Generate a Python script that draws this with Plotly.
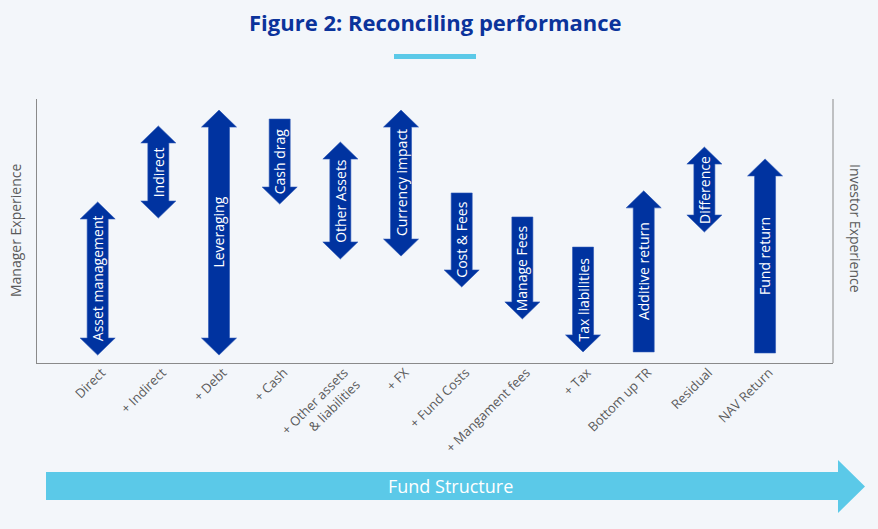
import plotly.graph_objects as go

# ---- data ----
categories = ["Direct", "+ Indirect", "+ Debt", "+ Cash", "+ Other assets<br>& liabilities", "+ FX",
              "+ Fund Costs", "+ Mangament fees", "+ Tax", "Bottom up TR", "Residual", "NAV Return"]
arrow_labels = ["Asset management", "Indirect", "Leveraging", "Cash drag", "Other Assets", "Currency impact",
                "Cost & Fees", "Manage Fees", "Tax liabilities", "Additive return", "Difference", "Fund return"]
arrow_kind = ["both", "both", "both", "down", "both", "both",
              "down", "down", "down", "up", "both", "up"]
top_values = [61.0, 89.8, 95.8, 92.4, 83.7, 95.8, 64.4, 55.3, 43.9, 65.2, 81.8, 77.3]
bottom_values = [3.0, 54.9, 3.0, 60.2, 39.4, 40.5, 28.8, 16.7, 4.2, 4.2, 49.6, 3.8]

# ---- style ----
BG = "#F3F6FA"
NAVY = "#0033A0"
CYAN = "#5BC9E8"
GREY = "#5A5A5A"
AXIS = "#8A8A8A"
FONT = "Open Sans"

W, H = 878, 529
L, R, T, B = 37, 45, 99, 166
plot_w = W - L - R
plot_h = H - T - B
x_range = [-1.0, 12.12]
y_range = [0, 100]
ux = plot_w / (x_range[1] - x_range[0])   # px per x unit
uy = plot_h / (y_range[1] - y_range[0])   # px per y unit

hw = 17.5 / ux   # head half-width
sw = 10.5 / ux   # shaft half-width
hl = 17.0 / uy   # head length


def px_x(p):
    return (p - L) / plot_w


def px_y(p):
    return (H - p - B) / plot_h


fig = go.Figure()
annotations = []

for i, (lab, kind, yt, yb) in enumerate(zip(arrow_labels, arrow_kind, top_values, bottom_values)):
    xc = i
    xs, ys = [], []
    if kind in ("both", "up"):
        xs += [xc, xc + hw, xc + sw]
        ys += [yt, yt - hl, yt - hl]
    else:
        xs += [xc + sw]
        ys += [yt]
    if kind in ("both", "down"):
        xs += [xc + sw, xc + hw, xc, xc - hw, xc - sw]
        ys += [yb + hl, yb + hl, yb, yb + hl, yb + hl]
    else:
        xs += [xc + sw, xc - sw]
        ys += [yb, yb]
    if kind in ("both", "up"):
        xs += [xc - sw, xc - hw, xc]
        ys += [yt - hl, yt - hl, yt]
    else:
        xs += [xc - sw, xc + sw]
        ys += [yt, yt]
    fig.add_trace(go.Scatter(x=xs, y=ys, mode="lines", fill="toself", fillcolor=NAVY,
                             line=dict(color="#2A55B5", width=0.6), hoverinfo="skip", showlegend=False))
    annotations.append(dict(x=xc, y=(yt + yb) / 2, xref="x", yref="y", text=lab, textangle=-90,
                            xanchor="center", yanchor="middle",
                            showarrow=False, font=dict(family=FONT, size=14, color="white")))


def paper_text(px, py, text, size, color, angle=0):
    return dict(x=px_x(px), y=px_y(py), xref="paper", yref="paper", text=text,
                xanchor="center", yanchor="middle", showarrow=False, textangle=angle,
                font=dict(family=FONT, size=size, color=color))


annotations.append(paper_text(15, 230, "Manager Experience", 14, GREY, -90))
annotations.append(paper_text(856, 228, "Investor Experience", 14, GREY, 90))
annotations.append(paper_text(435, 22, "<b>Figure 2: Reconciling performance</b>", 22, "#0B339B"))
annotations.append(paper_text(450, 486, "Fund Structure", 18, "white"))

shapes = []
shapes.append(dict(type="rect", xref="paper", yref="paper", x0=px_x(394), x1=px_x(476),
                   y0=px_y(59), y1=px_y(54), fillcolor=CYAN, line=dict(width=0)))
shapes.append(dict(type="line", xref="paper", yref="paper", x0=1, x1=1, y0=0, y1=1,
                   line=dict(color=AXIS, width=1)))
pts = [(46, 472), (838, 472), (838, 460), (865, 486.5), (838, 513), (838, 500), (46, 500)]
path = "M " + " L ".join(f"{px_x(a):.5f},{px_y(b):.5f}" for a, b in pts) + " Z"
shapes.append(dict(type="path", xref="paper", yref="paper", path=path, fillcolor=CYAN,
                   line=dict(width=0)))

fig.update_layout(
    width=W, height=H,
    margin=dict(l=L, r=R, t=T, b=B),
    paper_bgcolor=BG, plot_bgcolor=BG,
    showlegend=False,
    annotations=annotations,
    shapes=shapes,
    font=dict(family=FONT),
    xaxis=dict(range=x_range, tickmode="array", tickvals=list(range(len(categories))),
               ticktext=categories, tickangle=-45, showgrid=False, zeroline=False,
               showline=True, linecolor=AXIS, linewidth=1, ticks="",
               ticklabelstandoff=-4, ticklabelshift=4,
               tickfont=dict(family=FONT, size=13, color=GREY), fixedrange=True),
    yaxis=dict(range=y_range, showgrid=False, zeroline=False, showticklabels=False,
               showline=True, linecolor=AXIS, linewidth=1, ticks="", fixedrange=True),
)

fig.write_html("out.html", config={"displayModeBar": False},
               post_script="document.body.style.margin='0';document.body.style.background='#F3F6FA';")
